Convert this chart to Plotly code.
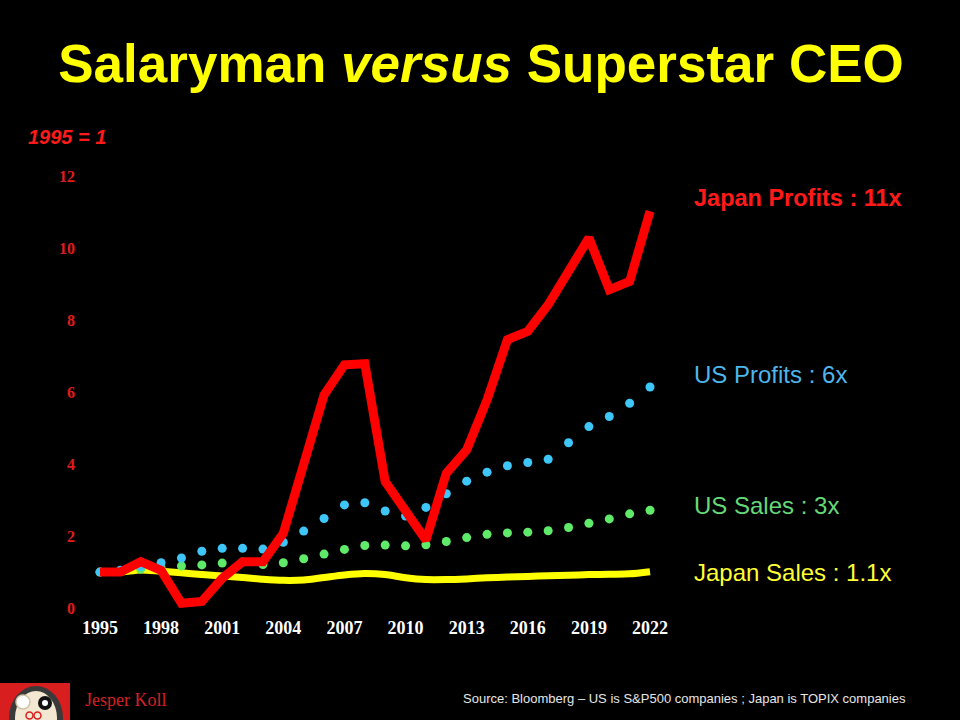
import plotly.graph_objects as go

# Datos: índice 1995 = 1
years = list(range(1995, 2023))

japan_profits = [1.0, 1.0, 1.29, 1.05, 0.13, 0.18, 0.83, 1.29, 1.29, 2.08,
                 4.0, 5.93, 6.77, 6.80, 3.52, 2.70, 1.89, 3.75, 4.40, 5.79,
                 7.47, 7.70, 8.44, 9.37, 10.30, 8.86, 9.09, 11.04]
us_profits = [1.0, 1.05, 1.15, 1.26, 1.39, 1.58, 1.66, 1.66, 1.64, 1.83,
              2.14, 2.49, 2.87, 2.93, 2.70, 2.56, 2.80, 3.18, 3.53, 3.78,
              3.96, 4.05, 4.14, 4.60, 5.05, 5.33, 5.70, 6.15]
us_sales = [1.0, 1.02, 1.08, 1.12, 1.17, 1.20, 1.25, 1.28, 1.21, 1.26,
            1.37, 1.50, 1.63, 1.74, 1.75, 1.73, 1.76, 1.85, 1.96, 2.05,
            2.09, 2.11, 2.15, 2.24, 2.36, 2.48, 2.62, 2.72]
japan_sales = [1.0, 1.0, 1.06, 1.02, 0.98, 0.93, 0.89, 0.85, 0.80, 0.77,
               0.78, 0.85, 0.92, 0.96, 0.93, 0.84, 0.79, 0.79, 0.81, 0.84,
               0.86, 0.88, 0.90, 0.91, 0.93, 0.94, 0.95, 1.01]

x_ticks = list(range(1995, 2023, 3))
y_ticks = [0, 2, 4, 6, 8, 10, 12]

labels = ["Japan Profits : 11x", "US Profits : 6x", "US Sales : 3x", "Japan Sales : 1.1x"]

# márgenes en píxeles (ventana 960x720)
W, H = 960, 720
ML, MR, MT, MB = 80, 290, 165, 105

def px(x):
    return (x - ML) / (W - ML - MR)

def py(y):
    return (H - MB - y) / (H - MT - MB)

fig = go.Figure()

fig.add_trace(go.Scatter(
    x=years, y=japan_sales, mode='lines',
    line=dict(color='#FFFF00', width=7, shape='spline', smoothing=0.8),
    hoverinfo='skip', name='Japan Sales'
))
fig.add_trace(go.Scatter(
    x=years, y=us_sales, mode='markers',
    marker=dict(color='#5FEA6A', size=9),
    hoverinfo='skip', name='US Sales'
))
fig.add_trace(go.Scatter(
    x=years, y=us_profits, mode='markers',
    marker=dict(color='#3DC6F7', size=9),
    hoverinfo='skip', name='US Profits'
))
fig.add_trace(go.Scatter(
    x=years, y=japan_profits, mode='lines',
    line=dict(color='#FF0000', width=9),
    hoverinfo='skip', name='Japan Profits'
))

# etiquetas a la derecha
label_styles = [
    (198, '#FF1A1A', 'bold'),
    (374, '#4DB6EC', 'normal'),
    (505, '#66D977', 'normal'),
    (572, '#FFFF33', 'normal'),
]
annotations = []
for txt, (ypix, col, wt) in zip(labels, label_styles):
    annotations.append(dict(
        text=txt, xref='paper', yref='paper', x=px(692), y=py(ypix),
        xanchor='left', yanchor='middle', showarrow=False,
        font=dict(family='Liberation Sans', size=24 if wt == 'normal' else 23.5,
                  color=col, weight=wt)
    ))

annotations += [
    dict(text='<i>1995 = 1</i>', xref='paper', yref='paper', x=px(26), y=py(137),
         xanchor='left', yanchor='middle', showarrow=False,
         font=dict(family='Liberation Sans', size=20, color='#FF1A1A', weight='bold')),
    dict(text='Jesper Koll', xref='paper', yref='paper', x=px(83), y=py(700),
         xanchor='left', yanchor='middle', showarrow=False,
         font=dict(family='Liberation Serif', size=18, color='#D42020')),
    dict(text='Source: Bloomberg – US is S&P500 companies ; Japan is TOPIX companies',
         xref='paper', yref='paper', x=px(908), y=py(698),
         xanchor='right', yanchor='middle', showarrow=False,
         font=dict(family='Liberation Sans', size=13, color='#E6E6E6')),
]

# logo (daruma) aproximado con formas
def circ(x0, x1, y0, y1, fill, lc=None, lw=0):
    return dict(type='circle', xref='paper', yref='paper',
                x0=px(x0), x1=px(x1), y0=py(y1), y1=py(y0),
                fillcolor=fill, line=dict(color=lc or fill, width=lw), layer='above')

shapes = [
    dict(type='rect', xref='paper', yref='paper', x0=px(0), x1=px(70), y0=py(720), y1=py(683),
         fillcolor='#D81E1E', line=dict(width=0), layer='above'),
    circ(9, 63, 686, 750, '#3A3A3A'),
    circ(15, 57, 691, 745, '#F2E8D2'),
    circ(16, 30, 695, 709, '#FFFFFF', '#CFC3A8', 1.5),
    circ(38, 52, 696, 710, '#111111'),
    circ(42, 48, 700, 706, '#FFFFFF'),
    circ(26, 33, 712, 719, 'rgba(0,0,0,0)', '#D81E1E', 1.5),
    circ(34, 41, 712, 719, 'rgba(0,0,0,0)', '#D81E1E', 1.5),
]

fig.update_layout(
    width=W, height=H,
    paper_bgcolor='black', plot_bgcolor='black',
    margin=dict(l=ML, r=MR, t=MT, b=MB),
    showlegend=False,
    title=dict(
        text='Salaryman <i>versus</i> Superstar CEO',
        font=dict(family='Liberation Sans', size=53, color='#FFFF00', weight='bold'),
        x=481 / W, xref='container', xanchor='center',
        y=1 - 63 / H, yref='container', yanchor='middle'
    ),
    xaxis=dict(
        range=[1994.02, 2022.98], tickvals=x_ticks, ticktext=[str(t) for t in x_ticks],
        showgrid=False, zeroline=False, showline=False, ticks='',
        tickfont=dict(family='Liberation Serif', size=18, color='white', weight='bold')
    ),
    yaxis=dict(
        range=[-0.195, 12.33], tickvals=y_ticks,
        showgrid=False, zeroline=False, showline=False, ticks='',
        ticklabelstandoff=4,
        tickfont=dict(family='Liberation Serif', size=16, color='#E01B1B', weight='bold')
    ),
    annotations=annotations,
    shapes=shapes,
)

fig.write_html("out.html", config={'displayModeBar': False},
               post_script="document.body.style.margin='0';")
